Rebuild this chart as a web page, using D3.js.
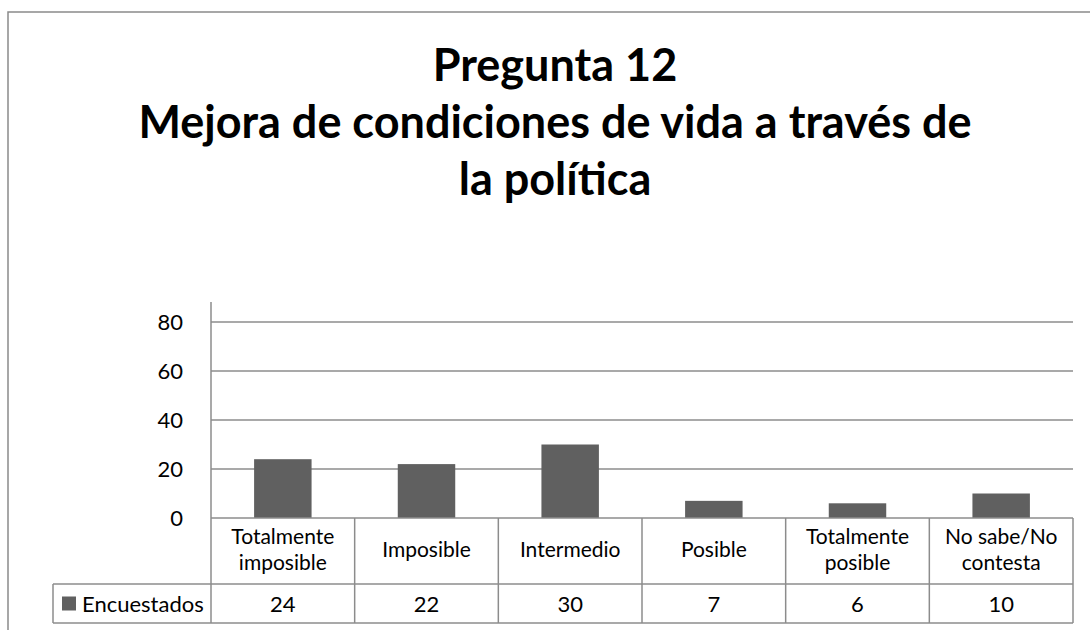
<!DOCTYPE html>
<html>
<head>
<meta charset="utf-8">
<script src="https://cdn.jsdelivr.net/npm/d3@7"></script>
<style>
  body { margin: 0; background: #fff; }
  svg { display: block; font-family: Lato, "Open Sans", sans-serif; }
</style>
</head>
<body>
<div id="chart"></div>
<script>
var titleLines = ["Pregunta 12", "Mejora de condiciones de vida a través de", "la política"];
var categories = ["Totalmente imposible", "Imposible", "Intermedio", "Posible", "Totalmente posible", "No sabe/No contesta"];
var seriesName = "Encuestados";
var values = [24, 22, 30, 7, 6, 10];
var yTicks = [0, 20, 40, 60, 80];

var width = 1090, height = 630;
var plotLeft = 211, plotRight = 1073, plotTop = 302,
    headerBottom = 584, tableBottom = 623, tableLeft = 53;

var svg = d3.select("#chart").append("svg")
    .attr("width", width)
    .attr("height", height);

// chart border (cut off at the right and bottom)
svg.append("rect")
    .attr("x", 8).attr("y", 12)
    .attr("width", 1200).attr("height", 700)
    .attr("fill", "none")
    .attr("stroke", "#8a8a8a")
    .attr("stroke-width", 1.5);

// title
svg.append("g").selectAll("text")
  .data(titleLines)
  .join("text")
    .attr("x", 555)
    .attr("y", (d, i) => 81 + i * 57)
    .attr("text-anchor", "middle")
    .attr("font-weight", "bold")
    .attr("font-size", "45px")
    .attr("fill", "#000")
    .text(d => d);

var y = d3.scaleLinear()
    .domain([0, 80])
    .range([518, 322]);

var xCol = d3.scaleBand()
    .domain(categories)
    .range([plotLeft, plotRight]);

var xBar = d3.scaleBand()
    .domain(categories)
    .range([plotLeft, plotRight])
    .paddingInner(0.6)
    .paddingOuter(0.3);

// gridlines
svg.append("g").selectAll("line")
  .data(yTicks.filter(d => d > 0))
  .join("line")
    .attr("x1", plotLeft).attr("x2", plotRight)
    .attr("y1", d => y(d)).attr("y2", d => y(d))
    .attr("stroke", "#8c8c8c")
    .attr("stroke-width", 1.5);

// y axis labels
var yAxis = svg.append("g")
    .attr("transform", "translate(" + plotLeft + ",0)")
    .call(d3.axisLeft(y).tickValues(yTicks).tickSize(0).tickPadding(28));
yAxis.select(".domain").remove();
yAxis.selectAll("text")
    .attr("font-family", "Lato, 'Open Sans', sans-serif")
    .attr("font-size", "22px")
    .attr("fill", "#000");

// bars
svg.append("g").selectAll("rect")
  .data(values)
  .join("rect")
    .attr("x", (d, i) => xBar(categories[i]))
    .attr("y", d => y(d))
    .attr("width", xBar.bandwidth())
    .attr("height", d => y(0) - y(d))
    .attr("fill", "#606060");

// data table lines
var lineColor = "#8c8c8c";
var table = svg.append("g")
    .attr("stroke", lineColor)
    .attr("stroke-width", 1.5);

// vertical axis line down through the table
table.append("line")
    .attr("x1", plotLeft).attr("x2", plotLeft)
    .attr("y1", plotTop).attr("y2", tableBottom);
// column separators
table.selectAll(".sep")
  .data(categories)
  .join("line")
    .attr("class", "sep")
    .attr("x1", d => xCol(d) + xCol.bandwidth())
    .attr("x2", d => xCol(d) + xCol.bandwidth())
    .attr("y1", y(0)).attr("y2", tableBottom);
// horizontal lines
table.append("line")
    .attr("x1", plotLeft).attr("x2", plotRight)
    .attr("y1", y(0)).attr("y2", y(0));
table.append("line")
    .attr("x1", tableLeft).attr("x2", plotRight)
    .attr("y1", headerBottom).attr("y2", headerBottom);
table.append("line")
    .attr("x1", tableLeft).attr("x2", plotRight)
    .attr("y1", tableBottom).attr("y2", tableBottom);
table.append("line")
    .attr("x1", tableLeft).attr("x2", tableLeft)
    .attr("y1", headerBottom).attr("y2", tableBottom);

// header labels, wrapped to fit the column
function wrapWords(text, maxW) {
  var probe = svg.append("text").attr("font-size", "21px");
  var words = text.split(" "), lines = [], cur = "";
  words.forEach(function(w) {
    var test = cur ? cur + " " + w : w;
    probe.text(test);
    if (cur && probe.node().getComputedTextLength() > maxW) {
      lines.push(cur);
      cur = w;
    } else {
      cur = test;
    }
  });
  lines.push(cur);
  probe.remove();
  return lines;
}

var headerMid = (y(0) + headerBottom) / 2;
var lineH = 25.5;
categories.forEach(function(c) {
  var lines = wrapWords(c, xCol.bandwidth() - 14);
  var first = headerMid - (lines.length - 1) * lineH / 2 + 6;
  svg.append("g").selectAll("text")
    .data(lines)
    .join("text")
      .attr("x", xCol(c) + xCol.bandwidth() / 2)
      .attr("y", (d, i) => first + i * lineH)
      .attr("text-anchor", "middle")
      .attr("font-size", "21px")
      .attr("fill", "#000")
      .text(d => d);
});

// values row
var rowMid = (headerBottom + tableBottom) / 2;
svg.append("g").selectAll("text")
  .data(values)
  .join("text")
    .attr("x", (d, i) => xCol(categories[i]) + xCol.bandwidth() / 2)
    .attr("y", rowMid + 8)
    .attr("text-anchor", "middle")
    .attr("font-size", "22px")
    .attr("fill", "#000")
    .text(d => d);

// legend key + series name
svg.append("rect")
    .attr("x", 62).attr("y", rowMid - 7)
    .attr("width", 14).attr("height", 14)
    .attr("fill", "#606060");
svg.append("text")
    .attr("x", 82)
    .attr("y", rowMid + 8)
    .attr("font-size", "22px")
    .attr("fill", "#000")
    .text(seriesName);
</script>
</body>
</html>
